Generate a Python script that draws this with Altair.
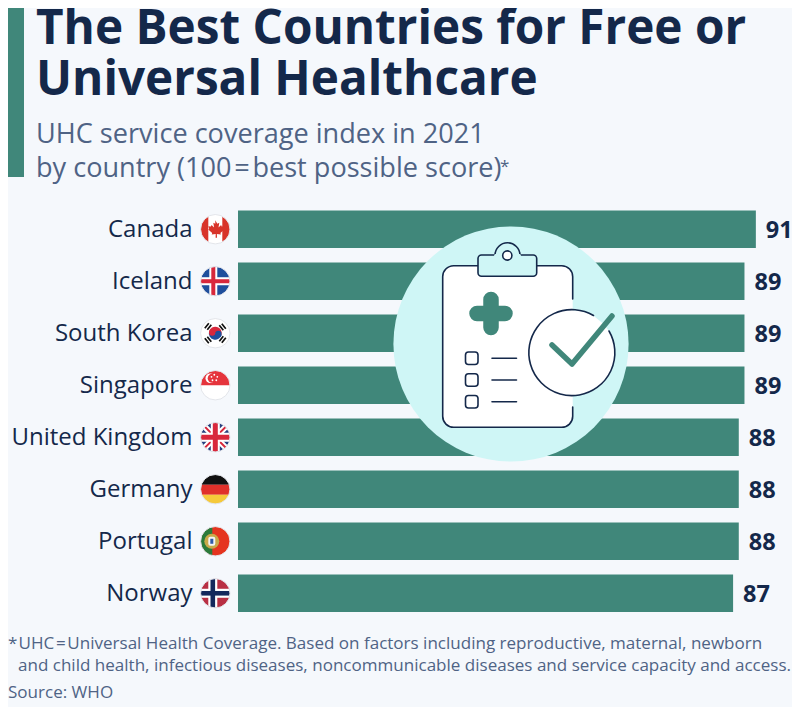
import base64
import altair as alt
import pandas as pd

# ---- values
countries = ["Canada", "Iceland", "South Korea", "Singapore", "United Kingdom", "Germany", "Portugal", "Norway"]
scores = [91, 89, 89, 89, 88, 88, 88, 87]
title_lines = ["The Best Countries for Free or", "Universal Healthcare"]
subtitle_lines = ["UHC service coverage index in 2021", "by country (100\u200a=\u200abest possible score)"]
note_mark = ["*"]
note_lines = ["UHC\u200a=\u200aUniversal Health Coverage. Based on factors including reproductive, maternal, newborn"]
note_line2 = ["and child health, infectious diseases, noncommunicable diseases and service capacity and access."]
source_line = ["Source: WHO"]

BG = "#f5f8fc"
GREEN = "#40877a"
NAVY = "#14284a"
SLATE = "#4f6385"
FONT = "Open Sans"
LEFT, TOP = 238, 210.5   # page position of the plot area's corner


def uri(body, size):
    svg = f'<svg xmlns="http://www.w3.org/2000/svg" width="{size}" height="{size}" viewBox="0 0 {size} {size}">{body}</svg>'
    return "data:image/svg+xml;base64," + base64.b64encode(svg.encode()).decode()


def flag(inner):
    return uri(
        '<defs><clipPath id="c"><circle cx="16" cy="16" r="14.5"/></clipPath></defs>'
        f'<g clip-path="url(#c)">{inner}</g>'
        '<circle cx="16" cy="16" r="14.7" fill="none" stroke="#e3e5ea" stroke-width="1"/>', 32)


leaf = ('<path fill="#d8342a" d="M16 7l2 3.6 2-1-.8 4.6 2.6-2.4.6 1.6 2.6-.4-.9 2.8 1 .6-4 3.4.5 1.6-4-.5.1 3.6h-1.4l.1-3.6-4 .5'
        '.5-1.6-4-3.4 1-.6-.9-2.8 2.6.4.6-1.6 2.6 2.4-.8-4.6 2 1z"/>')
flags = {
    "Canada": flag('<rect width="32" height="32" fill="#fff"/><rect width="9" height="32" fill="#d8342a"/>'
                   '<rect x="23" width="9" height="32" fill="#d8342a"/>' + leaf),
    "Iceland": flag('<rect width="32" height="32" fill="#1f4f9c"/><rect x="10" width="8" height="32" fill="#fff"/>'
                    '<rect y="12" width="32" height="8" fill="#fff"/><rect x="12" width="4" height="32" fill="#d8283c"/>'
                    '<rect y="14" width="32" height="4" fill="#d8283c"/>'),
    "South Korea": flag('<rect width="32" height="32" fill="#fff"/>'
                        '<path d="M9.5 16a6.5 6.5 0 0 1 13 0z" fill="#d8283c" transform="rotate(15 16 16)"/>'
                        '<path d="M9.5 16a6.5 6.5 0 0 0 13 0z" fill="#1f4f9c" transform="rotate(15 16 16)"/>'
                        '<circle cx="12.9" cy="15.2" r="3.2" fill="#d8283c"/><circle cx="19.1" cy="16.8" r="3.2" fill="#1f4f9c"/>'
                        '<g stroke="#111" stroke-width="1.7"><path d="M5.5 11l4-5M8 12.500l4-5"/>'
                        '<path d="M22.500 6.500l4 5M20 8l4 5"/><path d="M5.500 21l4 5M8 19.500l4 5"/>'
                        '<path d="M22.500 25.500l4-5M20 24l4-5"/></g>'),
    "Singapore": flag('<rect width="32" height="32" fill="#fff"/><rect width="32" height="16" fill="#e5343c"/>'
                      '<circle cx="11" cy="9" r="4.8" fill="#fff"/><circle cx="13" cy="9" r="4.6" fill="#e5343c"/>'
                      '<g fill="#fff"><circle cx="15" cy="5.5" r=".9"/><circle cx="18" cy="7.6" r=".9"/><circle cx="17" cy="11" r=".9"/>'
                      '<circle cx="13.2" cy="11" r=".9"/><circle cx="12.2" cy="7.6" r=".9"/></g>'),
    "United Kingdom": flag('<rect width="32" height="32" fill="#27407f"/>'
                           '<path d="M0 0L32 32M32 0L0 32" stroke="#fff" stroke-width="6"/>'
                           '<path d="M0 0L32 32M32 0L0 32" stroke="#d8283c" stroke-width="2"/>'
                           '<rect x="11.5" width="9" height="32" fill="#fff"/><rect y="11.5" width="32" height="9" fill="#fff"/>'
                           '<rect x="13.5" width="5" height="32" fill="#d8283c"/><rect y="13.5" width="32" height="5" fill="#d8283c"/>'),
    "Germany": flag('<rect width="32" height="11.5" fill="#111"/><rect y="11.5" width="32" height="10" fill="#e0302a"/>'
                    '<rect y="21.5" width="32" height="11" fill="#f5c93a"/>'),
    "Portugal": flag('<rect width="32" height="32" fill="#e5341f"/><rect width="13" height="32" fill="#2b7a3a"/>'
                     '<circle cx="12.5" cy="16" r="7.5" fill="#c9a94a"/><rect x="9" y="11.500" width="7" height="9" rx="2" fill="#f3f3f3"/>'
                     '<rect x="11" y="13.5" width="3" height="5" fill="#2f5aa8"/>'),
    "Norway": flag('<rect width="32" height="32" fill="#b93044"/><rect x="9" width="9" height="32" fill="#fff"/>'
                   '<rect y="11.5" width="32" height="9" fill="#fff"/><rect x="11.2" width="4.6" height="32" fill="#14285c"/>'
                   '<rect y="13.7" width="32" height="4.6" fill="#14285c"/>'),
}

# icon drawn in page pixels, shifted so that the 240-wide image is centred on (511, 344)
icon = uri(f'''<g transform="translate(-391 -224)" fill="none" stroke-linecap="round" stroke-linejoin="round">
<circle cx="511" cy="344" r="117.6" fill="#cff6f6"/>
<rect x="442.7" y="265.7" width="130" height="161.6" rx="11" fill="#fff"/>
<path d="M572.7 299V277a11 11 0 0 0-11-11.300H453.700a11 11 0 0 0-11 11.300V416.300a11 11 0 0 0 11 11H561.700a11 11 0 0 0 11-11V407" stroke="{NAVY}" stroke-width="1.600"/>
<path d="M495 255.300a12.500 12.500 0 0 1 25 0" fill="#cff6f6" stroke="{NAVY}" stroke-width="1.600"/>
<rect x="478" y="255" width="58.700" height="21.300" rx="3.500" fill="#cff6f6" stroke="{NAVY}" stroke-width="1.600"/>
<path d="M495.500 255.300h24" stroke="#cff6f6" stroke-width="2.500"/>
<circle cx="507.300" cy="255.500" r="4.600" fill="#fff" stroke="{NAVY}" stroke-width="1.600"/>
<path d="M491 299.500v28M477 313.500h28" stroke="{GREEN}" stroke-width="15.500"/>
<g stroke="{NAVY}" stroke-width="1.600">
<rect x="465.500" y="352" width="12.500" height="12.500" rx="3"/><rect x="465.500" y="373.800" width="12.500" height="12.500" rx="3"/><rect x="465.500" y="395.500" width="12.500" height="12.500" rx="3"/>
<path d="M492 358.300h24.500M492 380h24.500M492 401.700h24.500"/></g>
<circle cx="572" cy="353.300" r="43" fill="#fff"/>
<path d="M593.500 315.500A43 43 0 1 0 609 331" stroke="{NAVY}" stroke-width="1.600"/>
<path d="M552 345l20 19 40-48" stroke="{GREEN}" stroke-width="5.500"/>
</g>''', 240)

df = pd.DataFrame({"country": countries, "score": scores, "flag": [flags[c] for c in countries]})

x = alt.X("score:Q", scale=alt.Scale(domain=[0, 97], nice=False), axis=None)
y = alt.Y("country:N", sort=countries, title=None,
          scale=alt.Scale(paddingInner=0.28, paddingOuter=0),
          axis=alt.Axis(domain=False, ticks=False, labelPadding=46, labelFont=FONT, labelFontSize=24,
                        labelColor=NAVY, labelFontWeight="normal", labelLimit=300, labelOffset=1))

bars = alt.Chart(df).mark_bar(color=GREEN, cornerRadius=0).encode(x=x, y=y)
values = alt.Chart(df).mark_text(align="left", baseline="middle", dx=10, dy=1.5, font=FONT, fontWeight="bold",
                                 fontSize=23.5, color=NAVY).encode(x=x, y=y, text="score:Q")
flag_marks = alt.Chart(df).mark_image(width=32, height=32).encode(
    x=alt.value(215.3 - LEFT), y=y, url="flag:N")
icon_mark = alt.Chart(pd.DataFrame({"icon": [icon]})).mark_image(width=240, height=240).encode(
    x=alt.value(511 - LEFT), y=alt.value(344 - TOP), url="icon:N")
accent = alt.Chart(pd.DataFrame({"a": [0]})).mark_rect(color=GREEN).encode(
    x=alt.value(8 - LEFT), x2=alt.value(24 - LEFT), y=alt.value(8 - TOP), y2=alt.value(177 - TOP))


def text_mark(lines, px, py, size, color, **kw):
    return alt.Chart(pd.DataFrame({"t": lines})).mark_text(
        align="left", baseline="alphabetic", font=FONT, fontSize=size, color=color, **kw
    ).encode(x=alt.value(px - LEFT), y=alt.value(py - TOP), text="t:N")


texts = [
    text_mark(title_lines[:1], 36, 44, 47.7, NAVY, fontWeight="bold"),
    text_mark(title_lines[1:], 36, 95, 47.7, NAVY, fontWeight="bold"),
    text_mark(subtitle_lines[:1], 36, 143, 27.1, SLATE),
    text_mark(subtitle_lines[1:], 36, 177, 27.1, SLATE),
    text_mark(["*"], 500, 172, 17, SLATE),
    text_mark(note_mark, 8, 648.5, 17.05, SLATE),
    text_mark(note_lines, 18.5, 648.5, 17.05, SLATE),
    text_mark(note_line2, 18, 671, 17.05, SLATE),
    text_mark(source_line, 8, 697.5, 17.05, SLATE),
]

chart = alt.layer(bars, values, flag_marks, icon_mark, accent, *texts).properties(
    width=552, height=401.5,
    background=BG,
    padding={"left": LEFT - 8, "top": TOP - 8, "right": 2, "bottom": 95},
    autosize=alt.AutoSizeParams(type="none"),
).configure_view(stroke=None)

chart.save("out.html", embed_options={"renderer": "svg", "actions": False})
